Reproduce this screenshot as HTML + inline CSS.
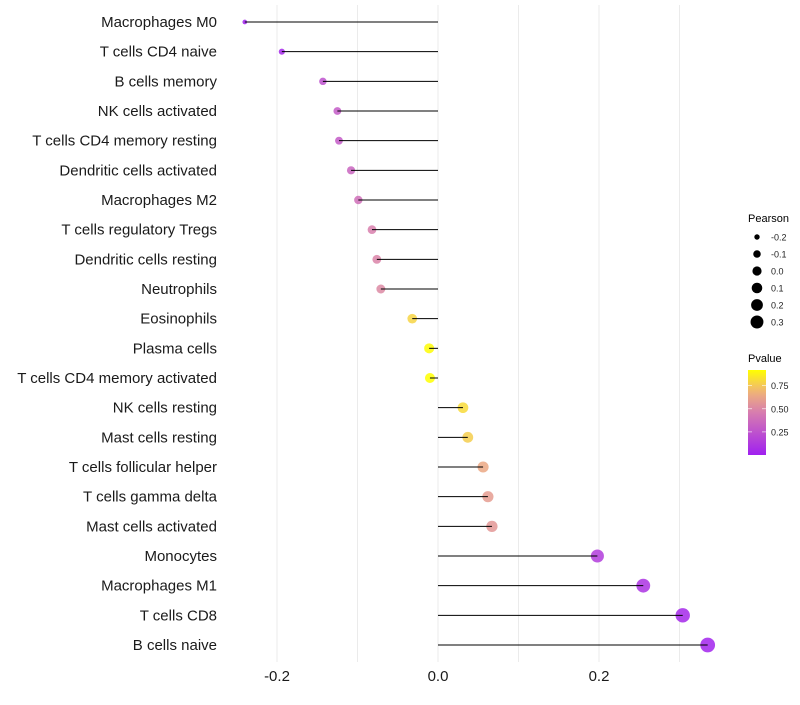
<!DOCTYPE html>
<html><head><meta charset="utf-8"><style>
body{margin:0;background:#fff;font-family:"Liberation Sans",sans-serif}
</style></head><body>
<svg id="c" width="800" height="700" xmlns="http://www.w3.org/2000/svg" font-family="Liberation Sans, sans-serif"></svg>
<script>
const categories=["Macrophages M0","T cells CD4 naive","B cells memory","NK cells activated","T cells CD4 memory resting","Dendritic cells activated","Macrophages M2","T cells regulatory  Tregs ","Dendritic cells resting","Neutrophils","Eosinophils","Plasma cells","T cells CD4 memory activated","NK cells resting","Mast cells resting","T cells follicular helper","T cells gamma delta","Mast cells activated","Monocytes","Macrophages M1","T cells CD8","B cells naive"];
const pearson=[-0.240,-0.194,-0.143,-0.125,-0.123,-0.108,-0.099,-0.082,-0.076,-0.071,-0.032,-0.011,-0.010,0.031,0.037,0.056,0.062,0.067,0.198,0.255,0.304,0.335];
const pvalue=[0.02,0.05,0.25,0.30,0.30,0.35,0.40,0.48,0.50,0.52,0.80,0.92,0.93,0.82,0.78,0.65,0.60,0.58,0.15,0.10,0.05,0.03];
const xTicks=[-0.2,0.0,0.2];
const xTickLabels=["-0.2","0.0","0.2"];
const sizeLegend=[-0.2,-0.1,0.0,0.1,0.2,0.3];
const sizeLegendLabels=["-0.2","-0.1","0.0","0.1","0.2","0.3"];
const colorLegend=[0.75,0.50,0.25];
const colorLegendLabels=["0.75","0.50","0.25"];

const svg=document.getElementById('c');const NS="http://www.w3.org/2000/svg";
function mk(t,a,p){const e=document.createElementNS(NS,t);for(const k in a)e.setAttribute(k,a[k]);(p||svg).appendChild(e);return e;}
const x=v=>438+v*805;
const y=i=>22+i*(623/21);
const r=v=>Math.sqrt(Math.max(2.5,26+85*v));
const pMin=0.01,pMax=0.93;
const stops=[[0,[160,32,240]],[0.5,[215,125,175]],[0.75,[240,180,120]],[1,[255,255,0]]];
function col(p){let t=Math.max(0,Math.min(1,(p-pMin)/(pMax-pMin)));for(let i=1;i<stops.length;i++){if(t<=stops[i][0]){const a=stops[i-1],b=stops[i];const f=(t-a[0])/(b[0]-a[0]);const c=a[1].map((v,j)=>Math.round(v+(b[1][j]-v)*f));return `rgb(${c})`;}}return 'rgb(255,255,0)';}
[-0.2,-0.1,0,0.1,0.2,0.3].forEach(v=>{const g=mk('line',{x1:x(v),x2:x(v),y1:5,y2:662,stroke:'#ebebeb','stroke-width':1});
});
categories.forEach((c,i)=>{
const t=mk('text',{x:217,y:y(i)+5,'text-anchor':'end','font-size':15,fill:'#1a1a1a'});t.textContent=c;

const pt=mk('circle',{cx:x(pearson[i]),cy:y(i),r:r(pearson[i]),fill:col(pvalue[i]),'fill-opacity':0.85});

const l=mk('line',{x1:x(0),x2:x(pearson[i]),y1:y(i),y2:y(i),stroke:'#000','stroke-width':1});

});
xTicks.forEach((v,i)=>{const t=mk('text',{x:x(v),y:681,'text-anchor':'middle','font-size':15,fill:'#1a1a1a'});t.textContent=xTickLabels[i];
});
const st=mk('text',{x:748,y:222,'font-size':11,fill:'#000'});st.textContent='Pearson';

sizeLegend.forEach((v,i)=>{const cy=237+i*17;
const c=mk('circle',{cx:757,cy:cy,r:r(v)*0.9,fill:'#000'});
const t=mk('text',{x:771,y:cy+3.5,'font-size':9,fill:'#222'});t.textContent=sizeLegendLabels[i];
});
const ct=mk('text',{x:748,y:362,'font-size':11,fill:'#000'});ct.textContent='Pvalue';

const defs=mk('defs',{});const gr=mk('linearGradient',{id:'g',x1:0,y1:1,x2:0,y2:0},defs);
for(let k=0;k<=10;k++){const p=pMin+(pMax-pMin)*k/10;mk('stop',{offset:k/10,'stop-color':col(p)},gr);}
const cb=mk('rect',{x:748,y:370,width:18,height:85,fill:'url(#g)'});

const py=p=>455-(p-0.0)/(0.92)*85;
colorLegend.forEach((p,i)=>{
mk('line',{x1:748,x2:752,y1:py(p),y2:py(p),stroke:'#fff','stroke-width':0.6});mk('line',{x1:762,x2:766,y1:py(p),y2:py(p),stroke:'#fff','stroke-width':0.6});
const t=mk('text',{x:771,y:py(p)+3.5,'font-size':9,fill:'#222'});t.textContent=colorLegendLabels[i];
});
</script>
</body></html>
